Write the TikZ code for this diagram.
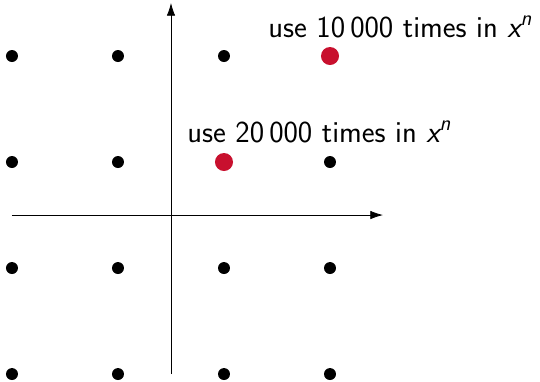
\documentclass[tikz,border=0pt]{standalone}
\usetikzlibrary{arrows.meta}
\definecolor{dotred}{RGB}{200,16,46}
\begin{document}
\begin{tikzpicture}[
  blackdot/.style={circle,fill=black,inner sep=0pt,minimum size=0.226cm},
  reddot/.style={circle,fill=dotred,inner sep=0pt,minimum size=0.34cm},
  lbl/.style={anchor=base west,inner sep=0pt,font=\sffamily\fontsize{16.4}{19}\selectfont},
  axis/.style={line width=0.4pt,-{Latex[length=2.4mm,width=1.6mm]}}
]
\useasboundingbox (-3.226,-3.132) rectangle (6.962,4.057);
% axes
\coordinate (xl) at (-3,0);
\coordinate (xr) at (4,0);
\coordinate (yb) at (0,-3);
\coordinate (yt) at (0,4);
\draw[axis] (xl) -- (xr);
\draw[axis] (yb) -- (yt);
% dots
\foreach \i/\x in {1/-3,2/-1,3/1,4/3}{
  \foreach \j/\y in {1/-3,2/-1}{
    \node[blackdot] (d\i\j) at (\x,\y) {};
  }
}
\node[blackdot] (d13) at (-3,1) {};
\node[blackdot] (d23) at (-1,1) {};
\node[reddot]   (d33) at (1,1) {};
\node[blackdot] (d43) at (3,1) {};
\node[blackdot] (d14) at (-3,3) {};
\node[blackdot] (d24) at (-1,3) {};
\node[blackdot] (d34) at (1,3) {};
\node[reddot]   (d44) at (3,3) {};
% labels
\node[lbl] (l1) at (1.83,3.358) {use 10\,000 times in {\itshape x}\textsuperscript{\itshape n}};
\node[lbl] (l2) at (0.302,1.377) {use 20\,000 times in {\itshape x}\textsuperscript{\itshape n}};
\end{tikzpicture}
\end{document}
